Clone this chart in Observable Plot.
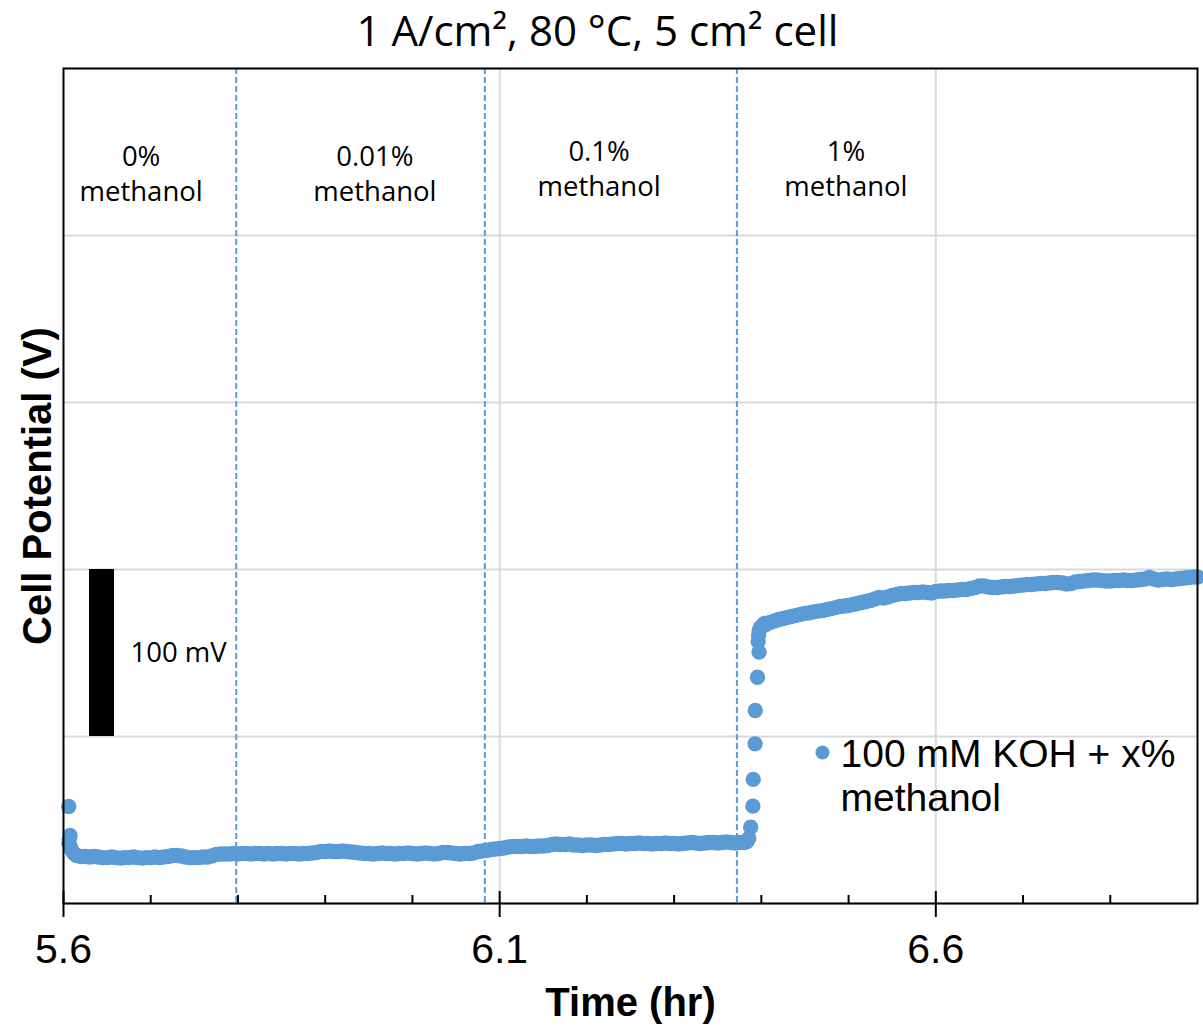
<!DOCTYPE html>
<html><head><meta charset="utf-8">
<script src="https://cdn.jsdelivr.net/npm/d3@7"></script>
<script src="https://cdn.jsdelivr.net/npm/@observablehq/plot@0.6"></script>
<style>body{margin:0;background:#fff} svg{display:block}</style>
</head><body><div id="chart"></div>
<script>
// ---- data ----
const startTimes = [5.606, 5.6075, 5.6065, 5.6062, 5.608, 5.6095, 5.612, 5.615];
const startPotentials = [1.6581, 1.6407, 1.6383, 1.6359, 1.6335, 1.6317, 1.6299, 1.6287];

const baseTimes = [
  5.620,5.625,5.630,5.635,5.640,5.645,5.650,5.655,5.660,5.665,
  5.670,5.675,5.680,5.685,5.690,5.695,5.700,5.705,5.710,5.715,
  5.720,5.725,5.730,5.735,5.740,5.745,5.750,5.755,5.760,5.765,
  5.770,5.775,5.780,5.785,5.790,5.795,5.800,5.805,5.810,5.815,
  5.820,5.825,5.830,5.835,5.840,5.845,5.850,5.855,5.860,5.865,
  5.870,5.875,5.880,5.885,5.890,5.895,5.900,5.905,5.910,5.915,
  5.920,5.925,5.930,5.935,5.940,5.945,5.950,5.955,5.960,5.965,
  5.970,5.975,5.980,5.985,5.990,5.995,6.000,6.005,6.010,6.015,
  6.020,6.025,6.030,6.035,6.040,6.045,6.050,6.055,6.060,6.065,
  6.070,6.075,6.080,6.085,6.090,6.095,6.100,6.105,6.110,6.115,
  6.120,6.125,6.130,6.135,6.140,6.145,6.150,6.155,6.160,6.165,
  6.170,6.175,6.180,6.185,6.190,6.195,6.200,6.205,6.210,6.215,
  6.220,6.225,6.230,6.235,6.240,6.245,6.250,6.255,6.260,6.265,
  6.270,6.275,6.280,6.285,6.290,6.295,6.300,6.305,6.310,6.315,
  6.320,6.325,6.330,6.335,6.340,6.345,6.350,6.355,6.360,6.365,
  6.370,6.375,6.380
];
const basePotentials = [
  1.6281,1.6281,1.6278,1.6281,1.6278,1.6275,1.6275,1.6278,1.6275,1.6272,
  1.6275,1.6275,1.6278,1.6275,1.6272,1.6275,1.6275,1.6278,1.6275,1.6278,
  1.6281,1.6287,1.6287,1.6284,1.6278,1.6275,1.6275,1.6275,1.6278,1.6278,
  1.6284,1.6293,1.6296,1.6296,1.6296,1.6299,1.6296,1.6299,1.6299,1.6296,
  1.6299,1.6299,1.6296,1.6299,1.6296,1.6299,1.6299,1.6296,1.6299,1.6299,
  1.6296,1.6299,1.6299,1.6302,1.6305,1.6311,1.6311,1.6314,1.6311,1.6311,
  1.6314,1.6311,1.6308,1.6305,1.6302,1.6299,1.6299,1.6296,1.6299,1.6302,
  1.6299,1.6299,1.6296,1.6299,1.6299,1.6302,1.6299,1.6296,1.6299,1.6302,
  1.6299,1.6296,1.6299,1.6305,1.6305,1.6302,1.6299,1.6296,1.6299,1.6299,
  1.6302,1.6311,1.6314,1.6317,1.6323,1.6326,1.6329,1.6332,1.6338,1.6341,
  1.6341,1.6341,1.6344,1.6341,1.6341,1.6344,1.6344,1.6347,1.6353,1.6356,
  1.6353,1.6353,1.6356,1.6350,1.6350,1.6347,1.6350,1.6350,1.6347,1.6350,
  1.6353,1.6353,1.6356,1.6359,1.6359,1.6356,1.6359,1.6359,1.6362,1.6359,
  1.6359,1.6356,1.6359,1.6359,1.6362,1.6359,1.6359,1.6356,1.6359,1.6362,
  1.6365,1.6362,1.6359,1.6362,1.6365,1.6365,1.6362,1.6365,1.6368,1.6365,
  1.6362,1.6365,1.6365
];

const riseTimes = [6.3835, 6.3856, 6.3878, 6.3903, 6.3907, 6.3928, 6.3930, 6.3956, 6.3974,
  6.3963, 6.3968, 6.3975, 6.3990, 6.4015, 6.4035];
const risePotentials = [1.6371, 1.6389, 1.6457, 1.6583, 1.6743, 1.6956, 1.7156, 1.7355, 1.7505,
  1.7569, 1.7605, 1.7635, 1.7653, 1.7665, 1.7677];

const plateauTimes = [
  6.405,6.410,6.415,6.420,6.425,6.430,6.435,6.440,6.445,6.450,
  6.455,6.460,6.465,6.470,6.475,6.480,6.485,6.490,6.495,6.500,
  6.505,6.510,6.515,6.520,6.525,6.530,6.535,6.540,6.545,6.550,
  6.555,6.560,6.565,6.570,6.575,6.580,6.585,6.590,6.595,6.600,
  6.605,6.610,6.615,6.620,6.625,6.630,6.635,6.640,6.645,6.650,
  6.655,6.660,6.665,6.670,6.675,6.680,6.685,6.690,6.695,6.700,
  6.705,6.710,6.715,6.720,6.725,6.730,6.735,6.740,6.745,6.750,
  6.755,6.760,6.765,6.770,6.775,6.780,6.785,6.790,6.795,6.800,
  6.805,6.810,6.815,6.820,6.825,6.830,6.835,6.840,6.845,6.850,
  6.855,6.860,6.865,6.870,6.875,6.880,6.885,6.890,6.895,6.900
];
const plateauPotentials = [
  1.7671,1.7683,1.7692,1.7701,1.7707,1.7713,1.7719,1.7725,1.7731,1.7737,
  1.7740,1.7746,1.7751,1.7754,1.7760,1.7766,1.7772,1.7778,1.7781,1.7784,
  1.7790,1.7796,1.7802,1.7808,1.7814,1.7823,1.7832,1.7829,1.7835,1.7844,
  1.7850,1.7856,1.7856,1.7859,1.7862,1.7862,1.7865,1.7862,1.7859,1.7868,
  1.7871,1.7871,1.7874,1.7874,1.7877,1.7880,1.7880,1.7886,1.7892,1.7901,
  1.7901,1.7895,1.7892,1.7892,1.7895,1.7898,1.7898,1.7901,1.7904,1.7907,
  1.7910,1.7910,1.7913,1.7916,1.7916,1.7919,1.7922,1.7922,1.7919,1.7913,
  1.7916,1.7925,1.7928,1.7931,1.7934,1.7937,1.7937,1.7934,1.7931,1.7931,
  1.7934,1.7934,1.7937,1.7934,1.7934,1.7937,1.7940,1.7943,1.7952,1.7943,
  1.7937,1.7940,1.7943,1.7940,1.7943,1.7946,1.7949,1.7952,1.7955,1.7955
];

const xTicks = [5.6, 6.1, 6.6];
const xMinorTicks = [5.7, 5.8, 5.9, 6.0, 6.2, 6.3, 6.4, 6.5, 6.7, 6.8];
const yGrid = [1.6, 1.7, 1.8, 1.9, 2.0, 2.1];
const switchTimes = [5.798, 6.083, 6.372];
const sectionLabels = ["0%\nmethanol", "0.01%\nmethanol", "0.1%\nmethanol", "1%\nmethanol"];
const sectionCenters = [5.689, 5.957, 6.214, 6.497];
const title = "1 A/cm\u00b2, 80 \u00b0C, 5 cm\u00b2 cell";
const xLabel = "Time (hr)";
const yLabel = "Cell Potential (V)";
const seriesName = "100 mM KOH + x%\nmethanol";
const scaleBar = [{start: 1.7, end: 1.8, label: "100 mV"}];

// ---- build table ----
const times = [...startTimes, ...baseTimes, ...riseTimes, ...plateauTimes];
const potentials = [...startPotentials, ...basePotentials, ...risePotentials, ...plateauPotentials];
const data = times.map((t, i) => ({t, v: potentials[i]}));

const blue = "#5b9bd5";
const calibri = "'Open Sans', sans-serif";
const arial = "'Liberation Sans', Arial, sans-serif";
const frameH = 903 - 68;

const chart = Plot.plot({
  width: 1203, height: 1025,
  marginLeft: 63, marginRight: 6, marginTop: 68, marginBottom: 122,
  style: {fontFamily: arial, background: "white", color: "black"},
  x: {domain: [5.6, 6.9]},
  y: {domain: [1.6, 2.1], axis: null},
  marks: [
    Plot.gridY(yGrid, {stroke: "#d9d9d9", strokeOpacity: 1, strokeWidth: 2}),
    Plot.gridX(xTicks.slice(1), {stroke: "#d9d9d9", strokeOpacity: 1, strokeWidth: 2}),
    Plot.ruleX(switchTimes, {stroke: blue, strokeWidth: 2, strokeDasharray: "6,3"}),
    Plot.rect(scaleBar, {x1: 5.6298, x2: 5.6585, y1: "start", y2: "end", fill: "black"}),
    Plot.text(scaleBar, {x: 5.6768, y: d => (d.start + d.end) / 2, text: "label", textAnchor: "start",
      fontFamily: calibri, fontSize: 27.5}),
    Plot.dot(data, {x: "t", y: "v", r: 7.7, fill: blue}),
    Plot.frame({stroke: "black", strokeWidth: 2}),
    Plot.tickX(xMinorTicks, {x: d => d, insetTop: frameH - 8, stroke: "black", strokeWidth: 2}),
    Plot.tickX(xTicks, {x: d => d, insetTop: frameH - 12, insetBottom: -14, stroke: "black", strokeWidth: 2}),
    Plot.axisX({ticks: xTicks, tickSize: 0, tickPadding: 30, fontSize: 41, tickFormat: d => d.toFixed(1), label: null}),
    Plot.text(sectionLabels.slice(0, 2), {x: (d, i) => sectionCenters[i], frameAnchor: "top", dy: 104,
      lineAnchor: "middle", lineHeight: 1.27, fontFamily: calibri, fontSize: 27.5}),
    Plot.text(sectionLabels.slice(2), {x: (d, i) => sectionCenters[i + 2], frameAnchor: "top", dy: 99,
      lineAnchor: "middle", lineHeight: 1.27, fontFamily: calibri, fontSize: 27.5}),
    Plot.dot([seriesName], {frameAnchor: "top-left", dx: 822 - 63, dy: 752 - 68, r: 7, fill: blue}),
    Plot.text([seriesName], {frameAnchor: "top-left", dx: 840 - 63, dy: 774 - 68, textAnchor: "start",
      lineAnchor: "middle", lineHeight: 1.13, fontSize: 39}),
    Plot.text([yLabel], {frameAnchor: "left", dx: -25, rotate: -90, textAnchor: "middle",
      lineAnchor: "middle", fontSize: 40, fontWeight: "bold"}),
    Plot.text([xLabel], {frameAnchor: "bottom", dy: 100, lineAnchor: "middle", fontSize: 40, fontWeight: "bold"}),
    Plot.text([title], {frameAnchor: "top-left", dx: 597 - 63, dy: 32 - 68, textAnchor: "middle",
      lineAnchor: "middle", fontFamily: calibri, fontSize: 42})
  ]
});
document.getElementById("chart").appendChild(chart);
</script>
</body></html>
